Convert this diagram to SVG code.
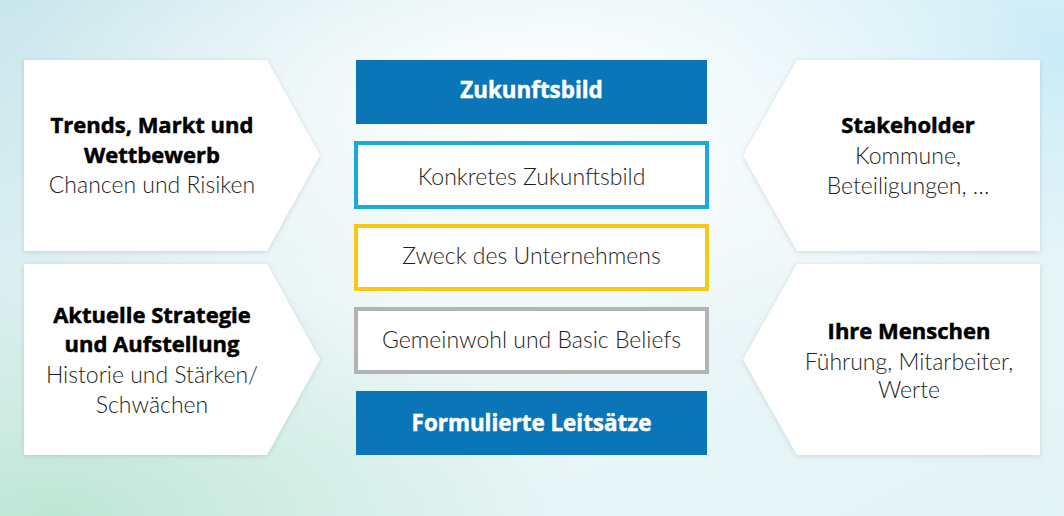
<svg xmlns="http://www.w3.org/2000/svg" width="1064" height="516" viewBox="0 0 1064 516">
<defs>
<linearGradient id="bg" x1="0" y1="0" x2="1" y2="1">
<stop offset="0" stop-color="#c8e6ec"/>
<stop offset="0.5" stop-color="#eef7f8"/>
<stop offset="1" stop-color="#e2f3f6"/>
</linearGradient>
<radialGradient id="w1" cx="0.5" cy="0.2" r="0.5">
<stop offset="0" stop-color="#ffffff" stop-opacity="1"/>
<stop offset="1" stop-color="#ffffff" stop-opacity="0"/>
</radialGradient>
<radialGradient id="g1" cx="0.05" cy="1" r="0.5">
<stop offset="0" stop-color="#bde6d6" stop-opacity="1"/>
<stop offset="1" stop-color="#bde6d6" stop-opacity="0"/>
</radialGradient>
<radialGradient id="c1" cx="1" cy="0.1" r="0.45">
<stop offset="0" stop-color="#c9ecf7" stop-opacity="1"/>
<stop offset="1" stop-color="#c9ecf7" stop-opacity="0"/>
</radialGradient>
<filter id="sh" x="-10%" y="-10%" width="120%" height="120%">
<feDropShadow dx="0" dy="1" stdDeviation="2.5" flood-color="#6a8c94" flood-opacity="0.3"/>
</filter>
</defs>
<style>
.panel{fill:#ffffff;filter:url(#sh)}
.t{font-family:"Lato","Liberation Sans",sans-serif;text-anchor:middle;fill:#1e1e1e}
.b{font-family:"Open Sans","Liberation Sans",sans-serif;font-weight:700;font-size:22px;fill:#000;stroke:#000;stroke-width:0.5}
.l{font-weight:300;font-size:23px}
.wb{font-family:"Open Sans","Liberation Sans",sans-serif;text-anchor:middle;font-weight:700;font-size:22.4px;fill:#ffffff;stroke:#ffffff;stroke-width:0.5}
.blue{fill:#0a76b8}
.box{fill:#ffffff;stroke-width:4}
</style>
<rect width="1064" height="516" fill="url(#bg)"/>
<rect width="1064" height="516" fill="url(#g1)"/>
<rect width="1064" height="516" fill="url(#c1)"/>
<rect width="1064" height="516" fill="url(#w1)"/>

<g id="node-trends">
<polygon class="panel" points="24,60 267,60 320,155.5 267,251 24,251"/>
<text class="t b" x="152" y="133">Trends, Markt und</text>
<text class="t b" x="152" y="163">Wettbewerb</text>
<text class="t l" x="152" y="193">Chancen und Risiken</text>
</g>
<g id="node-strategie">
<polygon class="panel" points="24,264 267,264 320,359.5 267,455 24,455"/>
<text class="t b" x="152" y="323">Aktuelle Strategie</text>
<text class="t b" x="152" y="352">und Aufstellung</text>
<text class="t l" x="152" y="383">Historie und Stärken/</text>
<text class="t l" x="152" y="413">Schwächen</text>
</g>
<g id="node-stakeholder">
<polygon class="panel" points="1040,60 797,60 743,155.5 797,251 1040,251"/>
<text class="t b" x="908" y="133">Stakeholder</text>
<text class="t l" x="908" y="164">Kommune,</text>
<text class="t l" x="908" y="194">Beteiligungen, …</text>
</g>
<g id="node-menschen">
<polygon class="panel" points="1040,264 797,264 743,359.5 797,455 1040,455"/>
<text class="t b" x="909" y="339">Ihre Menschen</text>
<text class="t l" x="909" y="370">Führung, Mitarbeiter,</text>
<text class="t l" x="909" y="398">Werte</text>
</g>

<g id="node-zukunftsbild">
<rect class="blue" x="356" y="60" width="351" height="64"/>
<text class="wb" x="531.5" y="98">Zukunftsbild</text>
</g>
<g id="node-konkret">
<rect class="box" x="356" y="143" width="351" height="64" stroke="#1aaad8"/>
<text class="t l" x="531.5" y="185">Konkretes Zukunftsbild</text>
</g>
<g id="node-zweck">
<rect class="box" x="356" y="226" width="351" height="63" stroke="#f8c812"/>
<text class="t l" x="531.5" y="264">Zweck des Unternehmens</text>
</g>
<g id="node-gemeinwohl">
<rect class="box" x="356" y="309" width="351" height="63" stroke="#b3b3b3"/>
<text class="t l" x="531.5" y="348">Gemeinwohl und Basic Beliefs</text>
</g>
<g id="node-leitsaetze">
<rect class="blue" x="356" y="391" width="351" height="64"/>
<text class="wb" x="531.5" y="431">Formulierte Leitsätze</text>
</g>
<g id="connectors"></g>
</svg>
